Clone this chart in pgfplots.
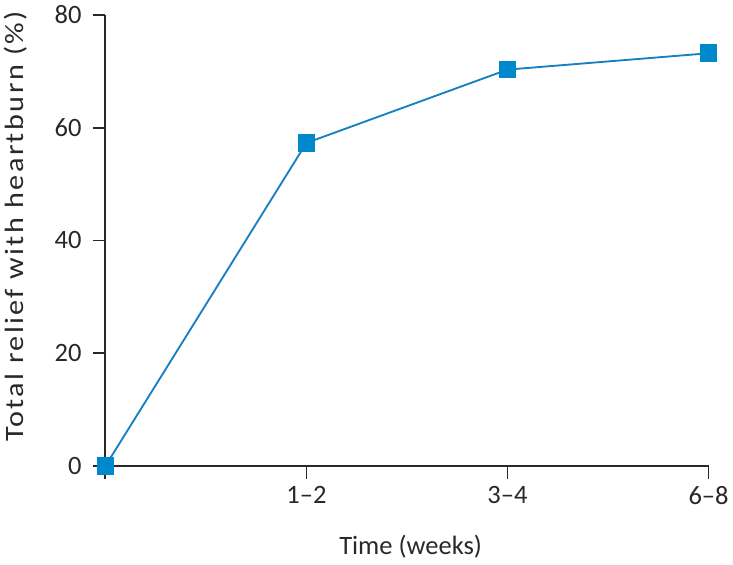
\documentclass[border=0pt]{standalone}
\usepackage{pgfplots}
\pgfplotsset{compat=1.18}
\usepackage{fontspec}
\setmainfont{Carlito}
\newfontfamily\ylabfont[LetterSpace=8]{Carlito}
\definecolor{lineCol}{RGB}{22,128,192}
\definecolor{markCol}{RGB}{0,136,204}
\definecolor{axCol}{RGB}{40,40,40}

\begin{document}
\begin{tikzpicture}[x=0.75pt,y=0.75pt]
  \begin{axis}[
    at={(0,0)}, anchor=origin,
    scale only axis,
    width=455.25pt, height=340.5pt,
    axis lines=left,
    axis line style={-, draw=axCol, line width=1.4pt},
    xmin=0, xmax=3, ymin=0, ymax=80,
    xtick={0,1,2,3},
    xticklabels={,1--2,3--4,6--8},
    ytick={0,20,40,60,80},
    tick align=outside,
    major tick length=9.5pt,
    tick style={draw=axCol, line width=1.4pt},
    tick label style={font=\fontsize{20}{24}\selectfont, text=axCol},
    yticklabel style={xshift=-5pt},
    xticklabel style={yshift=-2pt},
    label style={font=\fontsize{20}{24}\selectfont, text=axCol},
    /pgf/number format/assume math mode=true,
    xlabel={Time (weeks)},
    ylabel={\scalebox{1.14}[1]{\ylabfont Total relief with heartburn (\%)}},
    xlabel style={at={([yshift=-61pt]axis description cs:0.506,0)}, anchor=center},
    ylabel style={at={([xshift=-67.5pt]axis description cs:0,0.531)}, anchor=center},
    clip=false,
  ]
    \addplot[draw=lineCol, line width=1.4pt, mark=square*,
             mark size=6pt, mark options={fill=markCol, draw=markCol}]
      coordinates {(0,0) (1,57.3) (2,70.3) (3,73.2)};
  \end{axis}
  \path[use as bounding box] (-105,-99) rectangle (628,469);
\end{tikzpicture}
\end{document}
